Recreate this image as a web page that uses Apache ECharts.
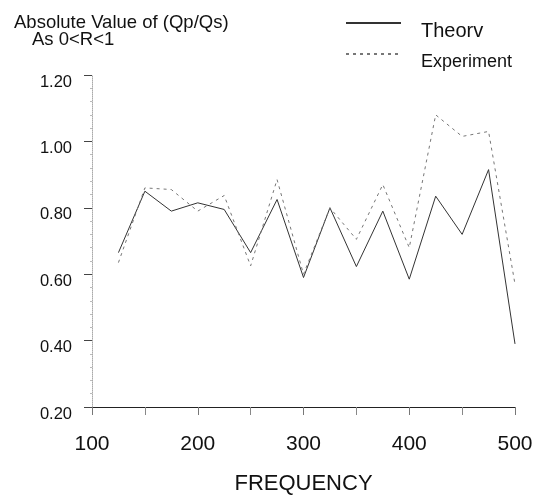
<!DOCTYPE html>
<html><head><meta charset="utf-8">
<script src="https://cdn.jsdelivr.net/npm/echarts@6/dist/echarts.min.js"></script>
<style>html,body{margin:0;padding:0;background:#fff}#c{width:538px;height:500px}</style>
</head><body><div id="c"></div>
<script>
const frequency = [125,150,175,200,225,250,275,300,325,350,375,400,425,450,475,500];
const theory =     [0.665,0.85,0.79,0.815,0.795,0.665,0.825,0.59,0.80,0.623,0.79,0.585,0.835,0.72,0.915,0.39];
const experiment = [0.635,0.86,0.855,0.79,0.837,0.625,0.885,0.60,0.80,0.705,0.87,0.68,1.08,1.015,1.03,0.57];
const yTicks = [0.2,0.4,0.6,0.8,1.0,1.2];
const font = 'Liberation Sans, Arial, sans-serif';
const chart = echarts.init(document.getElementById('c'));
chart.setOption({
  animation:false,
  backgroundColor:'#fff',
  title:[
    {text:'Absolute Value of (Qp/Qs)',left:14,top:13,padding:0,
      textStyle:{fontFamily:font,fontSize:18.5,fontWeight:'normal',color:'#111',lineHeight:20}},
    {text:'As 0<R<1',left:32,top:30,padding:0,
      textStyle:{fontFamily:font,fontSize:18.5,fontWeight:'normal',color:'#111',lineHeight:20}}
  ],
  legend:{orient:'vertical',left:345,top:5,padding:0,itemWidth:55,itemHeight:10,itemGap:-4,
    itemStyle:{opacity:0},
    formatter:n=>n==='Theorv'?'{a|'+n+'}':'{b|'+n+'}',
    textStyle:{fontFamily:font,color:'#111',
      rich:{a:{fontFamily:font,fontSize:20,color:'#111',lineHeight:20,padding:[16,0,0,15]},
            b:{fontFamily:font,fontSize:18,color:'#111',lineHeight:20,padding:[16,0,0,15]}}},
    data:['Theorv','Experiment']},
  grid:{left:92,right:23,top:75,bottom:93},
  xAxis:{type:'value',min:100,max:500,interval:100,
    name:'FREQUENCY',nameLocation:'middle',nameGap:66,
    nameTextStyle:{fontFamily:font,fontSize:22,color:'#111'},
    axisLine:{lineStyle:{color:'#222',width:1.2}},
    axisTick:{show:true,length:8,lineStyle:{color:'#777'}},
    minorTick:{show:true,splitNumber:2,length:8,lineStyle:{color:'#888'}},
    axisLabel:{fontFamily:font,fontSize:21,color:'#111',margin:27},
    splitLine:{show:false}},
  yAxis:{type:'value',min:0.2,max:1.2,interval:0.2,
    axisLine:{show:true,lineStyle:{color:'#aaa',type:'dotted'}},
    axisTick:{show:true,length:8,lineStyle:{color:'#444'}},
    minorTick:{show:true,splitNumber:5,length:2,lineStyle:{color:'#bbb'}},
    axisLabel:{fontFamily:font,fontSize:16.5,color:'#111',margin:20,verticalAlign:'top',lineHeight:14,formatter:v=>v.toFixed(2)},
    splitLine:{show:false}},
  series:[
    {name:'Theorv',type:'line',symbol:'none',data:frequency.map((f,i)=>[f,theory[i]]),
      lineStyle:{color:'#333',width:1},itemStyle:{color:'#333'}},
    {name:'Experiment',type:'line',symbol:'none',data:frequency.map((f,i)=>[f,experiment[i]]),
      lineStyle:{color:'#777',width:1,type:[3,4]},itemStyle:{color:'#777'}}
  ]
});
</script></body></html>
